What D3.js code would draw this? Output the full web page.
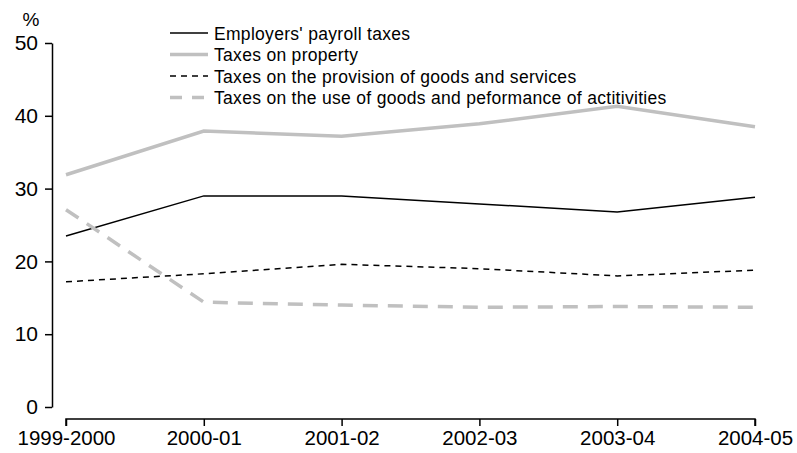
<!DOCTYPE html>
<html><head><meta charset="utf-8">
<script src="https://cdn.jsdelivr.net/npm/d3@7"></script>
<style>body{margin:0;background:#fff}svg{display:block}text{font-family:"Liberation Sans",Arial,sans-serif;fill:#000}</style>
</head><body>
<svg id="c" width="797" height="453"></svg>
<script>
const categories = ["1999-2000","2000-01","2001-02","2002-03","2003-04","2004-05"];
const payroll   = [23.5, 29.0, 29.0, 27.9, 26.8, 28.8];
const property  = [31.9, 37.9, 37.2, 38.9, 41.3, 38.5];
const provision = [17.2, 18.3, 19.6, 19.0, 18.0, 18.8];
const useGoods  = [27.1, 14.4, 14.0, 13.7, 13.8, 13.7];
const seriesNames = ["Employers' payroll taxes","Taxes on property","Taxes on the provision of goods and services","Taxes on the use of goods and peformance of actitivities"];
const yTicks = [0,10,20,30,40,50];

const svg = d3.select("#c");
const x = d3.scalePoint().domain(categories).range([66,755]);
const y = d3.scaleLinear().domain([0,50]).range([407,43]);

const styles = [
  {stroke:"#000", w:1.5, dash:null},
  {stroke:"#c0c0c0", w:3.5, dash:null},
  {stroke:"#000", w:1.5, dash:"6,5"},
  {stroke:"#c0c0c0", w:3.5, dash:"15,10"}
];
const data = [payroll, property, provision, useGoods];

// y axis
const ya = svg.append("g").attr("transform","translate(52,0)")
  .call(d3.axisLeft(y).tickValues(yTicks).tickSize(7).tickPadding(7).tickSizeOuter(0));
ya.select(".domain").attr("stroke","#000").attr("stroke-width",1.5);
ya.selectAll(".tick line").attr("stroke","#000").attr("stroke-width",1.5);
ya.selectAll("text").attr("font-size",21).style("font-family","Liberation Sans, Arial, sans-serif");

// x axis
const xa = svg.append("g").attr("transform","translate(0,419)")
  .call(d3.axisBottom(x).tickSize(7).tickPadding(4).tickSizeOuter(0));
xa.select(".domain").attr("stroke","#000").attr("stroke-width",1.5).attr("d","M66,7V0H755V7");
xa.selectAll(".tick line").attr("stroke","#000").attr("stroke-width",1.5);
xa.selectAll("text").attr("font-size",20.5).style("font-family","Liberation Sans, Arial, sans-serif");

svg.append("text").attr("x",31).attr("y",26).attr("text-anchor","middle").attr("font-size",19).text("%");

const line = d3.line().x((d,i)=>x(categories[i])).y(d=>y(d));
[1,0,3,2].forEach(k=>{
  const s = styles[k];
  svg.append("path").datum(data[k]).attr("d",line).attr("fill","none")
    .attr("stroke",s.stroke).attr("stroke-width",s.w)
    .attr("stroke-dasharray",s.dash).attr("stroke-linejoin","miter");
});

// legend
const lg = svg.append("g");
seriesNames.forEach((n,i)=>{
  const yy = 33 + i*21.5;
  const s = styles[i];
  lg.append("line").attr("x1",170).attr("x2",208).attr("y1",yy).attr("y2",yy)
    .attr("stroke",s.stroke).attr("stroke-width",s.w)
    .attr("stroke-dasharray", i===2 ? "6,5" : (i===3 ? "12,10" : null));
  lg.append("text").attr("x",214).attr("y",yy+6.5).attr("font-size",17.5)
    .attr("letter-spacing",0.3).text(n);
});
</script>
</body></html>
